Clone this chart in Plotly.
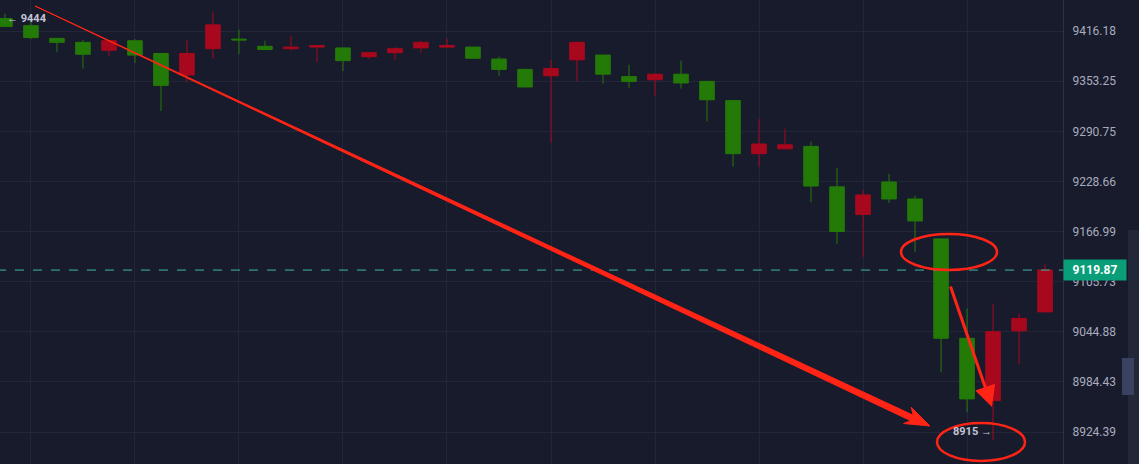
import numpy as np
import plotly.graph_objects as go

# candle values; green = falling, red = rising
opens = [9432, 9423, 9407, 9402, 9392, 9404, 9388, 9361, 9394, 9406, 9397, 9394, 9396,
         9395, 9384, 9389, 9395, 9396, 9396, 9381, 9368, 9360, 9380, 9386, 9359, 9355,
         9362, 9353, 9329, 9263, 9269, 9272, 9222, 9188, 9228, 9207, 9158, 9037, 8962,
         9046, 9069]
closes = [9422, 9408, 9402, 9387, 9404, 9386, 9348, 9388, 9424, 9405, 9393, 9396, 9398,
          9379, 9389, 9394, 9402, 9398, 9382, 9368, 9346, 9369, 9402, 9362, 9353, 9362,
          9351, 9330, 9263, 9275, 9274, 9223, 9167, 9212, 9207, 9180, 9037, 8964, 9045,
          9061, 9120]
highs = [9438, 9431, 9407, 9405, 9404, 9406, 9388, 9405, 9441, 9418, 9404, 9410, 9396,
         9395, 9389, 9396, 9404, 9407, 9396, 9384, 9369, 9380, 9403, 9386, 9374, 9359,
         9379, 9354, 9329, 9306, 9294, 9278, 9245, 9218, 9238, 9211, 9158, 9073, 9079,
         9067, 9127]
lows = [9424, 9406, 9390, 9369, 9385, 9376, 9316, 9352, 9382, 9387, 9392, 9392, 9377,
        9366, 9381, 9380, 9389, 9395, 9382, 9360, 9346, 9277, 9353, 9350, 9345, 9335,
        9344, 9303, 9247, 9247, 9270, 9203, 9152, 9136, 9202, 9142, 8996, 8948, 8915,
        9006, 9069]
idx = list(range(len(opens)))

y_ticks = [9416.18, 9353.25, 9290.75, 9228.66, 9166.99, 9105.73, 9044.88, 8984.43, 8924.39]
last_price = 9119.87

BG = "#181b2c"
RED = "#ff2415"
W, PW, H = 1139, 1063, 464

def px(x, y):
    return x / PW, 1 - y / H

fig = go.Figure()
fig.add_trace(go.Candlestick(
    x=idx, open=opens, high=highs, low=lows, close=closes,
    increasing=dict(line=dict(color="#a8081d", width=1), fillcolor="#a8081d"),
    decreasing=dict(line=dict(color="#247a07", width=1), fillcolor="#247a07"),
    whiskerwidth=0, showlegend=False, hoverinfo="skip"))
fig.add_trace(go.Scatter(x=[-1, 42], y=[last_price, last_price], mode="lines",
                         line=dict(color="#3fb8a5", width=1, dash="dash"),
                         showlegend=False, hoverinfo="skip"))

shapes = []
# big tapered arrow
pts = [(35, 6), (910.7, 420.7), (903.6, 423.5), (930, 426), (911.2, 407.3), (913.3, 415.3)]
path = "M " + " L ".join("%.5f,%.5f" % px(*p) for p in pts) + " Z"
shapes.append(dict(type="path", xref="paper", yref="paper", path=path,
                   fillcolor=RED, line=dict(color=RED, width=1)))
for x0, x1, y0, y1 in [(901, 997, 234, 270), (937, 1025, 423, 461)]:
    a, b = px(x0, y0)
    c, d = px(x1, y1)
    shapes.append(dict(type="circle", xref="paper", yref="paper", x0=a, x1=c, y0=d, y1=b,
                       line=dict(color=RED, width=2.5)))
# scrollbar
for x0, x1, y0, y1, col in [(1128, 1139, 230, 464, "#23273a"), (1122, 1134, 358, 395, "#3b4160")]:
    a, b = px(x0, y0)
    c, d = px(x1, y1)
    shapes.append(dict(type="rect", xref="paper", yref="paper", x0=a, x1=c, y0=d, y1=b,
                       fillcolor=col, line=dict(width=0)))

ann = []
tx, ty = px(992, 407)
ann.append(dict(xref="paper", yref="paper", x=tx, y=ty, ax=-42, ay=-122, showarrow=True,
                arrowhead=2, arrowsize=1.4, arrowwidth=3, arrowcolor=RED, text=""))
x1_, y1_ = px(5, 10)
ann.append(dict(xref="paper", yref="paper", x=x1_, y=y1_, xanchor="left", showarrow=False,
                text="<b>← 9444</b>", font=dict(color="#c3c6d6", size=11)))
x2_, y2_ = px(951, 440)
ann.append(dict(xref="paper", yref="paper", x=x2_, y=y2_, xanchor="left", showarrow=False,
                text="<b>8915 →</b>", font=dict(color="#c3c6d6", size=11)))
ann.append(dict(xref="paper", yref="y", x=1, y=np.log10(last_price), xanchor="left",
                showarrow=False, text="<b>9119.87</b>", bgcolor="#0a9e78",
                font=dict(color="white", size=12), borderpad=3, width=56))

fig.update_layout(
    width=W, height=H, margin=dict(l=0, r=W - PW, t=0, b=0),
    paper_bgcolor=BG, plot_bgcolor=BG, boxgap=0.2,
    font=dict(family="Roboto, sans-serif"),
    shapes=shapes, annotations=ann,
    xaxis=dict(range=[-0.19, 40.69], rangeslider=dict(visible=False), showticklabels=False,
               tickvals=list(range(1, 41, 4)), gridcolor="#232638", zeroline=False),
    yaxis=dict(type="log", side="right", range=[np.log10(8886.3), np.log10(9455.4)],
               tickvals=y_ticks, ticktext=["%.2f" % v for v in y_ticks],
               gridcolor="#232638", showline=True, linecolor="#2c3045",
               tickfont=dict(color="#a9acbe", size=12), ticks="outside",
               ticklen=6, tickcolor=BG),
)
fig.write_html("out.html", config={"displayModeBar": False},
               post_script="document.body.style.margin='0';")
